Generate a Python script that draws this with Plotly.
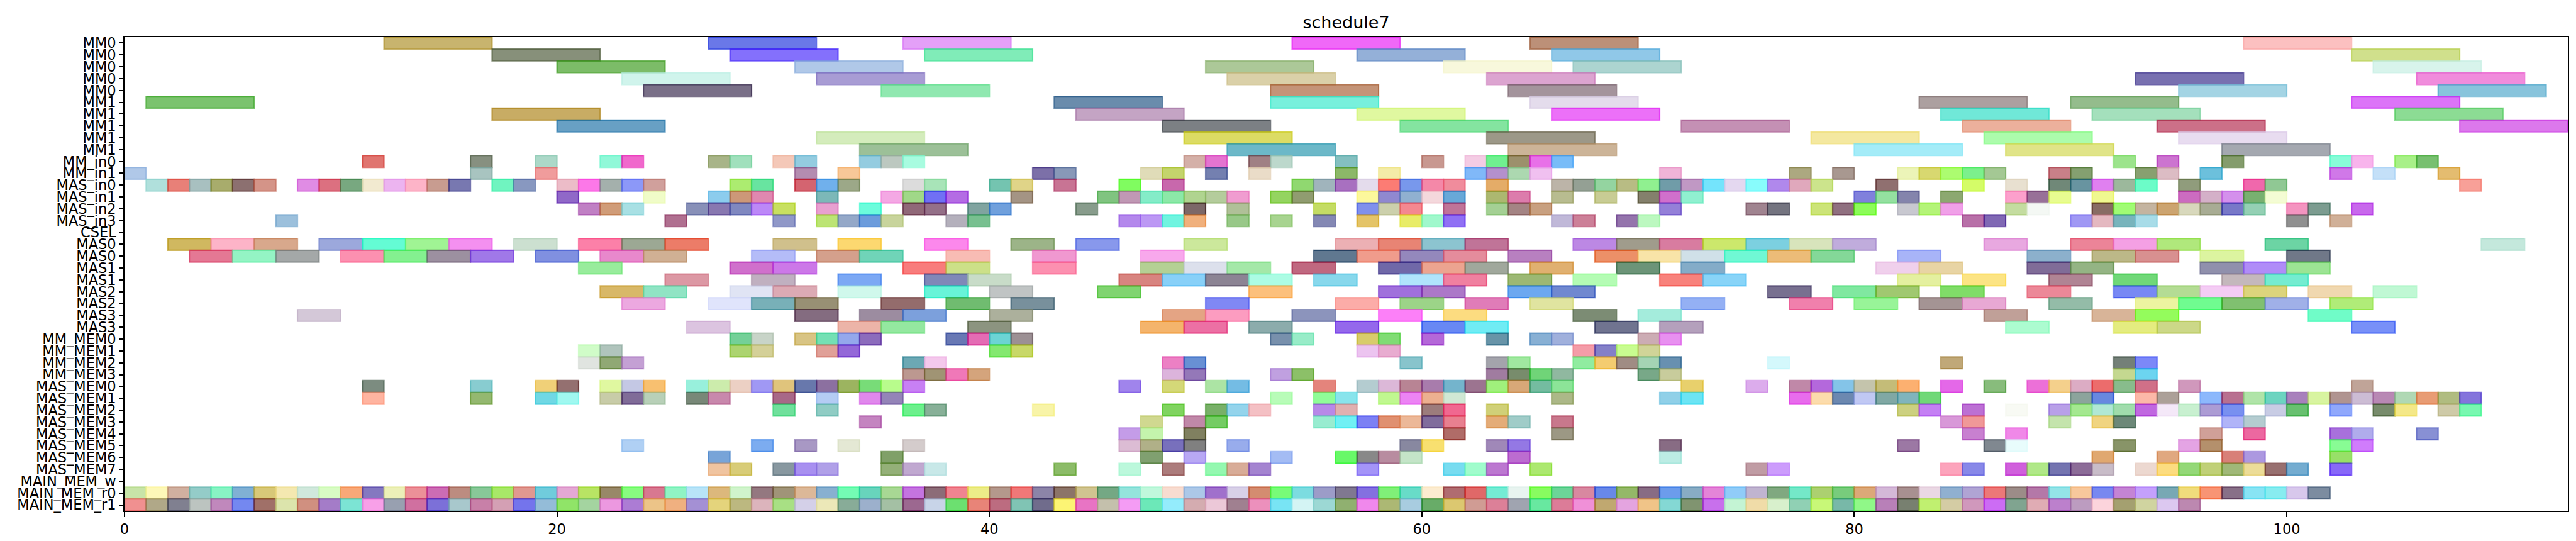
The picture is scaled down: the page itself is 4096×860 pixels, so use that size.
import plotly.graph_objects as go

# ---------------- data ----------------
ROW_LABELS = ["MM0", "MM0", "MM0", "MM0", "MM0",
              "MM1", "MM1", "MM1", "MM1", "MM1",
              "MM_in0", "MM_in1", "MAS_in0", "MAS_in1", "MAS_in2", "MAS_in3", "CSEL",
              "MAS0", "MAS0", "MAS1", "MAS1", "MAS2", "MAS2", "MAS3", "MAS3",
              "MM_MEM0", "MM_MEM1", "MM_MEM2", "MM_MEM3",
              "MAS_MEM0", "MAS_MEM1", "MAS_MEM2", "MAS_MEM3",
              "MAS_MEM4", "MAS_MEM5", "MAS_MEM6", "MAS_MEM7",
              "MAIN_MEM_w", "MAIN_MEM_r0", "MAIN_MEM_r1"]

ROW_DURATIONS = [5, 5, 5, 5, 5, 5, 5, 5, 5, 5,
                 1, 1, 1, 1, 1, 1, 1,
                 2, 2, 2, 2, 2, 2, 2, 2,
                 1, 1, 1, 1,
                 1, 1, 1, 1, 1, 1, 1, 1,
                 1, 1, 1]

mm0_a_starts = [12, 27, 36, 54, 65, 98]
mm0_a_colors = ['#c8b46e', '#6a78e8', '#e4a0f8', '#f068f8', '#bc9078', '#fcc0c0']
mm0_b_starts = [17, 28, 37, 57, 66, 103]
mm0_b_colors = ['#87907a', '#8470fc', '#80ecb8', '#94b0d8', '#90c8e8', '#d0e08c']
mm0_c_starts = [20, 31, 50, 61, 67, 104]
mm0_c_colors = ['#7cbc68', '#b0c8e8', '#acc898', '#f8f8dc', '#acd4d0', '#d8f4ec']
mm0_d_starts = [23, 32, 51, 63, 93, 106]
mm0_d_colors = ['#d0f4ec', '#a89cd4', '#dad0a8', '#dca4d0', '#7870b0', '#f08cdc']
mm0_e_starts = [24, 35, 53, 64, 95, 107]
mm0_e_colors = ['#7a7088', '#90e8b0', '#c49478', '#a4949c', '#a4d4e4', '#88c4dc']

mm1_a_starts = [1, 43, 53, 65, 83, 90, 103]
mm1_a_colors = ['#7bc36f', '#6a8cac', '#78f0dc', '#e4dcec', '#aca0a0', '#94bc8c', '#dc74f8']
mm1_b_starts = [17, 44, 57, 66, 84, 91, 105]
mm1_b_colors = ['#c8ac64', '#c4a4c4', '#e0f8a0', '#ec70f8', '#70e8d8', '#a4e0bc', '#8cdc94']
mm1_c_starts = [20, 48, 59, 72, 85, 94, 108]
mm1_c_colors = ['#68a0c4', '#7c8084', '#84e4a0', '#c490b4', '#ecb09c', '#cc7088', '#dc78ec']
mm1_d_starts = [32, 49, 63, 78, 86, 95]
mm1_d_colors = ['#d4ecbc', '#dcdc64', '#9c9888', '#f4e8a0', '#acfcac', '#e8dcf0']
mm1_e_starts = [34, 51, 64, 80, 87, 97]
mm1_e_colors = ['#9cc098', '#6cb8c8', '#ccb498', '#a4ecf8', '#e0e488', '#a4a8b0']

mm_in0_starts = [11, 16, 19, 22, 23, 27, 28, 30, 31, 34, 35, 36, 49, 50, 52, 53, 56, 60, 62, 63,
                 64, 65, 66, 92, 94, 97, 102, 103, 105, 106]
mm_in0_colors = ['#e07570', '#879080', '#acd8c8', '#90f8d8', '#f068cc', '#a8b488', '#a0e0bc', '#f4c8b8',
                 '#94cce0', '#94cce0', '#bcc8c0', '#a8fce0', '#d4b0a8', '#e474d0', '#a08084', '#bcd8cc',
                 '#84c0c0', '#c89890', '#f4cce4', '#70f090', '#9c906c', '#e870e8', '#78bcf8', '#9ce48c',
                 '#cc74d0', '#849c6c', '#88fcd8', '#f8b4ec', '#a8f088', '#78c070']
mm_in1_starts = [0, 16, 19, 31, 33, 42, 43, 47, 48, 50, 52, 56, 58, 62, 63, 64, 65, 71, 77, 79,
                 82, 83, 84, 85, 86, 89, 90, 93, 94, 96, 102, 104, 107]
mm_in1_colors = ['#b0c8e8', '#a8c4c0', '#f09c9c', '#b48cb0', '#f8c898', '#7c70a8', '#8898b8', '#e0dcb8',
                 '#c4d46c', '#7480b0', '#eadcc8', '#8cb868', '#f4eca8', '#80b8f8', '#b490cc', '#acd8b0',
                 '#f0c0f0', '#f0b4d8', '#aca880', '#a89890', '#ecf4b8', '#d8d870', '#acfc70', '#7cf08c',
                 '#a4c894', '#c88088', '#84a070', '#88a070', '#dcbcc4', '#6cc0dc', '#d078e8', '#c4e0f8',
                 '#e4bc70']

mas_in0_starts = [1, 2, 3, 4, 5, 6, 8, 9, 10, 11, 12, 13, 14, 15, 17, 18, 20, 21, 22, 23, 24, 28, 29,
                  31, 32, 33, 36, 37, 40, 41, 43, 46, 48, 54, 55, 56, 57, 58, 59, 60, 61, 63, 66, 67,
                  68, 69, 70, 71, 72, 73, 74, 75, 76, 77, 78, 81, 85, 87, 89, 90, 91, 92, 93, 95, 98,
                  99, 108]
mas_in0_colors = ['#b0e0dc', '#e88078', '#a8c0c0', '#a8ac6c', '#8c7070', '#d49488', '#e08ce4', '#dc7080',
                  '#78a880', '#f2ead0', '#ecb4f0', '#fdb4c8', '#c89c90', '#7878b0', '#70f4c0', '#8898c0',
                  '#ecbcc8', '#fc78e8', '#a4b0ac', '#8c98f8', '#d0a09c', '#acec70', '#68e4a0', '#d46470',
                  '#70b0ec', '#9ca888', '#dcdcdc', '#a8e4b8', '#74c4b0', '#e0d488', '#c87494', '#80fc60',
                  '#c868ac', '#90d870', '#a0b4bc', '#a870c0', '#e4dcec', '#fc7c74', '#7898ec', '#f488a8',
                  '#f08c9c', '#e4ac68', '#bcb4a8', '#94a094', '#94d4a0', '#b8bc84', '#90f090', '#709ca8',
                  '#c098c4', '#74e4fc', '#e4d8f0', '#88fcfc', '#b088ec', '#e0a8bc', '#cce48c', '#907070',
                  '#d4fc68', '#e8e0d0', '#708878', '#6894a0', '#e080f0', '#9cb89c', '#6cfcc8', '#909c7c',
                  '#f068ac', '#90c894', '#f8a098']
mas_in1_starts = [20, 24, 27, 28, 29, 32, 35, 36, 37, 38, 41, 45, 46, 47, 48, 49, 50, 51, 53, 54, 57,
                  58, 59, 60, 61, 63, 64, 66, 68, 70, 71, 72, 80, 81, 82, 84, 87, 88, 89, 91, 95, 96,
                  97, 98, 99]
mas_in1_colors = ['#9068c8', '#f0fcc8', '#8ccced', '#cc9878', '#e088b0', '#7cb8b8', '#f4a8e4', '#a0d888',
                  '#7070f4', '#b46ce4', '#a49484', '#80c480', '#c098b4', '#84ecc8', '#8ce8a8', '#b0d490',
                  '#b4cc9c', '#f09cd0', '#94d460', '#909c70', '#fcf89c', '#9088d0', '#90b0d0', '#f4d8dc',
                  '#68a8d8', '#acb870', '#dc7cac', '#b8bc90', '#c8cc94', '#84806c', '#d070cc', '#90f0d0',
                  '#8080dc', '#94e0a0', '#8484ac', '#8ca870', '#fca0cc', '#987098', '#e8fc90', '#f0f890',
                  '#cc6cc0', '#d4b0c8', '#d490ec', '#78b070', '#f4fcd4']
mas_in2_starts = [21, 22, 23, 26, 27, 28, 29, 30, 32, 34, 36, 37, 39, 40, 44, 49, 51, 55, 57, 58, 59,
                  61, 63, 64, 65, 71, 75, 76, 78, 79, 80, 82, 83, 84, 87, 88, 91, 92, 93, 94, 95, 96,
                  97, 98, 100, 101, 103]
mas_in2_colors = ['#c080c4', '#d09c78', '#a8e0e4', '#8890b8', '#8878b0', '#8088c0', '#bc88f8', '#c8e060',
                  '#e8a0d0', '#6cfcdc', '#906878', '#947088', '#80a4a0', '#70a0dc', '#889c8c', '#7c6868',
                  '#b0c098', '#c4dc64', '#8090ec', '#ccd0ac', '#f48890', '#c07498', '#a4d094', '#a48484',
                  '#c8a080', '#9480d8', '#a08490', '#747480', '#cce478', '#907080', '#8cfc54', '#c8c8d0',
                  '#b4f478', '#f0a0e8', '#c4dca0', '#f4f8f4', '#886c64', '#a0fc74', '#c4b4a0', '#cca470',
                  '#d8d8bc', '#a8ac94', '#7878c8', '#94d0b4', '#f494c0', '#7c9c90', '#c868ec']
mas_in3_starts = [7, 25, 30, 32, 33, 34, 35, 38, 39, 46, 47, 48, 49, 51, 53, 55, 57, 59, 60, 61, 66,
                  67, 69, 70, 85, 86, 90, 91, 92, 93, 100, 102]
mas_in3_colors = ['#9cc0dc', '#b07090', '#9098c8', '#bce474', '#94a8c8', '#6c9cdc', '#c8d49c', '#b4b0bc',
                  '#78c090', '#b488ec', '#bc98f4', '#70f4e0', '#f0b07c', '#98c888', '#a8d490', '#8488b4',
                  '#e4c468', '#e8ec68', '#a0f8cc', '#9070f4', '#c0b8d8', '#cc8098', '#9474ac', '#bcf8c0',
                  '#b870a8', '#8068b4', '#a098f4', '#e4b8c0', '#78b4bc', '#a8dce8', '#909090', '#d0b098']
csel_starts = []
csel_colors = []

mas0_a_starts = [2, 4, 6, 9, 11, 13, 15, 18, 21, 23, 25, 30, 33, 37, 41, 44, 49, 56, 58, 60, 62, 67,
                 69, 71, 73, 75, 77, 79, 86, 90, 92, 94, 99, 109]
mas0_a_colors = ['#d0b860', '#fdb4c8', '#d8a88c', '#9ca8dc', '#64fcd4', '#a0f494', '#f490f0', '#cce0d0',
                 '#fc80a8', '#9ca894', '#ec7c68', '#d0c08c', '#fcd870', '#fc88ec', '#9cb488', '#8898ec',
                 '#cce89c', '#ecb0b4', '#e88474', '#8cc4d0', '#c07498', '#bc88e4', '#a09c8c', '#d87ca0',
                 '#cce86c', '#7cd0e0', '#d8e4bc', '#c0acdc', '#e8a8e0', '#ec8498', '#f4a0e4', '#b0e87c',
                 '#6cd4a4', '#c4e8dc']
mas0_b_starts = [3, 5, 7, 10, 12, 14, 16, 19, 22, 24, 29, 32, 34, 38, 42, 47, 55, 57, 59, 61, 64, 68,
                 70, 72, 74, 76, 78, 82, 88, 91, 93, 96, 100]
mas0_b_colors = ['#e47894', '#94f4c4', '#a4a8a8', '#fc90b0', '#84f090', '#9c90a0', '#a078e8', '#8090e0',
                 '#e888cc', '#d0b094', '#b4bcf8', '#d4a08c', '#70d4b8', '#f8bcb4', '#f098d0', '#f8a8ec',
                 '#607890', '#f09c8c', '#9488bc', '#e48c9c', '#b880c0', '#ec9068', '#f8e4a8', '#d0e0e8',
                 '#70f8d4', '#ecbc78', '#84d898', '#a8b4f8', '#8cb0cc', '#bcb888', '#d89090', '#dcf4a0',
                 '#707888']
mas1_a_starts = [21, 28, 30, 36, 38, 42, 47, 49, 51, 54, 58, 60, 62, 65, 69, 72, 81, 83, 88, 90, 96,
                 98, 100]
mas1_a_colors = ['#98ec9c', '#d070cc', '#cc78e8', '#f87c7c', '#cce088', '#fc90b0', '#b4d094', '#dce0ec',
                 '#a4e8a8', '#c06880', '#7068a8', '#eca490', '#a0a89c', '#e0b070', '#6c9478', '#84acc8',
                 '#f0d0ec', '#e8d4a4', '#806c98', '#94b484', '#9090ac', '#b08cf8', '#9ce494']
mas1_b_starts = [25, 29, 33, 37, 39, 46, 48, 50, 52, 55, 59, 61, 64, 67, 71, 73, 82, 85, 89, 92, 97, 99]
mas1_b_colors = ['#dc98a4', '#c0b0c0', '#7ca8f4', '#8088b8', '#c8dcc8', '#d88480', '#88d0f8', '#8c8494',
                 '#acfce4', '#88d8ec', '#b0e4fc', '#f080a0', '#9cb874', '#b4fcb4', '#f8827c', '#88d4f8',
                 '#e4f0a0', '#fce484', '#b08494', '#70d878', '#c4b8bc', '#74ecd0']
mas2_a_starts = [22, 24, 28, 30, 33, 37, 40, 45, 52, 58, 60, 64, 66, 76, 79, 81, 84, 88, 92, 94, 96,
                 98, 101, 104]
mas2_a_colors = ['#d8b868', '#90e4c4', '#e0e4f4', '#dcaab4', '#d0f8ec', '#68f4d8', '#c0c4c4', '#80d470',
                 '#fcc07c', '#a070dc', '#ac78c8', '#6ca8f0', '#7088d0', '#787090', '#80e8a0', '#a0c870',
                 '#80dc68', '#ec8898', '#7888f4', '#b4dc94', '#f4ccf4', '#dcd47c', '#f0d8b0', '#c0f8d4']
mas2_b_starts = [23, 27, 29, 31, 35, 38, 41, 50, 56, 59, 62, 65, 72, 77, 80, 83, 85, 89, 93, 95, 97,
                 99, 102]
mas2_b_colors = ['#eca8e0', '#e0e4fc', '#78b0b8', '#989074', '#946c6c', '#70bc70', '#78909c', '#8088f4',
                 '#fcaca8', '#9cd488', '#e07cb8', '#e0e4a0', '#94b0f4', '#f080ac', '#98f498', '#a49494',
                 '#e8a8d4', '#94bca8', '#ecf4a0', '#70fc90', '#80c070', '#a0b0e8', '#b0ec78']
mas3_a_starts = [8, 31, 34, 36, 40, 48, 50, 54, 58, 61, 67, 70, 86, 91, 93, 101]
mas3_a_colors = ['#d4c8d8', '#846c80', '#9c8ca0', '#7ca0dc', '#acb09c', '#e4a484', '#fc9cc0', '#8c94bc',
                 '#fc80f8', '#fcdc80', '#7c8c74', '#a4ecdc', '#c0a098', '#d8b498', '#94fc5c', '#70fcc8']
mas3_b_starts = [26, 33, 35, 39, 47, 49, 52, 56, 60, 62, 68, 71, 87, 92, 94, 103]
mas3_b_colors = ['#dcc4e0', '#ecb4a8', '#94e8a0', '#8c9480', '#f4b46c', '#ec70a4', '#8cacac', '#9468ec',
                 '#6888f4', '#70ecf4', '#707490', '#b4a0bc', '#acfcd0', '#e4ec80', '#ccd888', '#7890f8']

mm_mem0_starts = [28, 29, 31, 32, 33, 34, 38, 39, 40, 41, 53, 54, 57, 58, 60, 63, 65, 66, 70, 71]
mm_mem0_colors = ['#74d098', '#c8d4c8', '#d8c484', '#74e0b4', '#94a8ec', '#8c6cbc', '#6878b4', '#e46cb4',
                  '#6cd4d4', '#9c9094', '#7890ac', '#98ecc8', '#d8cc6c', '#80dc74', '#b468d8', '#6894a8',
                  '#88b0d4', '#a0b0dc', '#ccacb4', '#e890f0']
mm_mem1_starts = [21, 22, 28, 29, 32, 33, 40, 41, 57, 58, 67, 68, 69, 70]
mm_mem1_colors = ['#d0fcc8', '#b0c4bc', '#acd470', '#d4d098', '#e0a098', '#9468d8', '#84e870', '#c8d868',
                  '#ecc4f0', '#e8acd0', '#f49ca8', '#8480c8', '#c8fc90', '#d0d498']
mm_mem2_starts = [21, 22, 23, 36, 37, 48, 49, 59, 63, 64, 67, 68, 69, 70, 71, 76, 84, 92, 93]
mm_mem2_colors = ['#e0e4e0', '#90a874', '#c4a0d4', '#6ca8b4', '#f4c8ec', '#ec80c4', '#6890d4', '#88c4cc',
                  '#a4a4ac', '#a0e8a0', '#90eca0', '#f4cc70', '#a08c84', '#a4d4b4', '#6890b0', '#d4f8fc',
                  '#c0a878', '#748078', '#7c88f8']
mm_mem3_starts = [36, 37, 38, 39, 48, 49, 53, 54, 63, 64, 65, 66, 70, 71, 92, 93]
mm_mem3_colors = ['#bc9890', '#a09474', '#f078b8', '#d4a47c', '#dcb4dc', '#9478b8', '#c0a0e0', '#8cc068',
                  '#a07ca0', '#788c6c', '#70d478', '#90b8a0', '#78a888', '#c8cc9c', '#c4d890', '#6cd4f0']

mas_mem0_starts = [11, 16, 19, 20, 22, 23, 24, 26, 27, 28, 29, 30, 31, 32, 33, 34, 35, 36, 46, 48, 50,
                   51, 55, 57, 58, 59, 60, 61, 62, 63, 64, 65, 66, 72, 75, 77, 78, 79, 80, 81, 82, 84,
                   86, 88, 89, 90, 91, 92, 93, 95, 103]
mas_mem0_colors = ['#7c8c80', '#88ccd0', '#f0d078', '#947070', '#e0f8a0', '#c4c8e4', '#f8c070', '#98f0dc',
                   '#ccecac', '#ecd0c4', '#a098f4', '#e0c47c', '#6878ac', '#8c70a0', '#9cb460', '#78dc78',
                   '#b8fc8c', '#c880f4', '#a084ec', '#d4d878', '#ace4a4', '#74bce4', '#e4847c', '#b4ccd0',
                   '#dcb8d8', '#b88494', '#a87cac', '#74b4cc', '#9c7490', '#a0f07c', '#d8a878', '#74bca0',
                   '#8ce498', '#e8d06c', '#dcacec', '#c088a8', '#b468dc', '#84c4e8', '#c4c4ac', '#c4bc78',
                   '#fcb070', '#e468e8', '#88bc7c', '#ec70d8', '#f4d08c', '#dcacc4', '#ec6c6c', '#88bc8c',
                   '#d07088', '#d098bc', '#c0a498']
mas_mem1_starts = [11, 16, 19, 20, 22, 23, 24, 26, 27, 30, 32, 34, 35, 53, 55, 56, 58, 59, 60, 61, 66,
                   71, 72, 77, 78, 79, 80, 81, 82, 83, 90, 91, 93, 94, 96, 97, 98, 99, 100, 101, 102,
                   103, 104, 105, 106, 107, 108]
mas_mem1_colors = ['#ffb4a0', '#94b870', '#70d8e4', '#a0f8f0', '#c8cca8', '#806c98', '#b8d0b8', '#788878',
                   '#c888ac', '#a86888', '#b4ccf4', '#e088ec', '#9484b8', '#b8fcb8', '#90fc98', '#88e4ec',
                   '#c0f890', '#ec84f4', '#ecb090', '#d0e8d4', '#acb888', '#90d0e8', '#6ce4f4', '#e86cec',
                   '#fcdcac', '#6c88b0', '#c0c8f4', '#80a8a4', '#80b4bc', '#70d878', '#8ca49c', '#6888e0',
                   '#fcb8a8', '#aca098', '#8cb8fc', '#b87090', '#b0e4a8', '#6cd4c0', '#a880bc', '#d8f4a0',
                   '#b09490', '#ccbcd4', '#b888b4', '#b0d8b4', '#e89c74', '#b0bc80', '#8474dc']
mas_mem2_starts = [30, 32, 36, 37, 42, 48, 50, 51, 52, 55, 56, 60, 61, 63, 82, 83, 85, 87, 89, 90, 91,
                   92, 93, 94, 95, 96, 97, 99, 100, 102, 104, 105, 107, 108]
mas_mem2_colors = ['#70e09c', '#90ccc4', '#6cf08c', '#88b098', '#f8f4a8', '#80d460', '#78b068', '#94d4ec',
                   '#f4c0c4', '#b888e8', '#e0b0b0', '#9c7c7c', '#f06890', '#d0d078', '#ccd080', '#c480f4',
                   '#bc70d4', '#f8faf4', '#b8a0e8', '#a4e890', '#b0e8d4', '#a0dcac', '#c068e0', '#f4e8f8',
                   '#c8f0d0', '#ac9cd4', '#7890f0', '#c8cce4', '#68c070', '#90a8fc', '#788c6c', '#f4e888',
                   '#cecaa8', '#78f8b0']
mas_mem3_starts = [34, 47, 49, 50, 55, 56, 57, 58, 59, 60, 61, 63, 64, 66, 84, 85, 89, 91, 92, 97, 98]
mas_mem3_colors = ['#c484c0', '#d0d890', '#c088a8', '#74cc64', '#98ecd0', '#70f0f4', '#7c80f4', '#e09070',
                   '#ecb898', '#806c9c', '#e88090', '#e4ac78', '#a0ccc8', '#c8788c', '#d898d8', '#f09898',
                   '#c4e4ac', '#f0d480', '#6c8878', '#b0b4f8', '#b4ccd0']
mas_mem4_starts = [46, 47, 49, 61, 66, 85, 87, 96, 98, 102, 103, 106]
mas_mem4_colors = ['#c49ce8', '#c4f4ac', '#808060', '#b06c68', '#9c9884', '#c880d0', '#f088e8', '#d0a098',
                   '#ec68a0', '#a870dc', '#b0acec', '#8890d4']
mas_mem5_starts = [23, 29, 31, 33, 36, 46, 47, 48, 49, 51, 59, 60, 63, 64, 71, 82, 86, 87, 92, 95, 96,
                   102, 103]
mas_mem5_colors = ['#b0d0f4', '#7cacf0', '#a898c4', '#e4e8d4', '#d4cccc', '#dcbcd4', '#b0b088', '#7870bc',
                   '#808080', '#98acec', '#8888a0', '#f8e070', '#a088b8', '#9478e4', '#886c84', '#9c78a4',
                   '#808890', '#e8fcfc', '#889468', '#e4a4e4', '#b4906c', '#88fc94', '#d07cfc']
mas_mem6_starts = [27, 35, 47, 49, 53, 56, 57, 58, 59, 64, 71, 91, 94, 97, 98, 102]
mas_mem6_colors = ['#78a4d8', '#80a068', '#80a070', '#b8a8f4', '#a4bcf4', '#68f868', '#888888', '#b88ca0',
                   '#c4e4c8', '#bc6cd0', '#bcece4', '#e0a870', '#e0a880', '#d88078', '#ac98e0', '#98e068']
mas_mem7_starts = [27, 28, 30, 31, 32, 35, 36, 37, 43, 46, 48, 50, 51, 52, 57, 61, 62, 63, 65, 75, 76,
                   84, 85, 87, 88, 89, 90, 91, 93, 94, 95, 96, 97, 98, 99, 100, 102]
mas_mem7_colors = ['#f0c4a0', '#d8cc78', '#8898a0', '#a890f0', '#b0a0e8', '#94b078', '#c0a8d0', '#c8e8e8',
                   '#8cbc68', '#bcf8dc', '#ac7c7c', '#94f8b0', '#d8ac98', '#a484d0', '#a494f8', '#78dcf0',
                   '#a0fccc', '#bc78d0', '#ace870', '#c09ca4', '#cc9cfc', '#fca4bc', '#8888e8', '#d060dc',
                   '#b0e888', '#7474b0', '#8c6c98', '#c8bcc8', '#ecd8d0', '#fcdc80', '#94d878', '#c0d078',
                   '#a0b878', '#ecdc98', '#987070', '#74acd0', '#8868f8']

main_mem_w_starts = []
main_mem_w_colors = []
main_mem_r0_starts = [0, 1, 2, 3, 4, 5, 6, 7, 8, 9, 10, 11, 12, 13, 14, 15, 16, 17, 18, 19, 20, 21, 22,
                      23, 24, 25, 26, 27, 28, 29, 30, 31, 32, 33, 34, 35, 36, 37, 38, 39, 40, 41, 42,
                      43, 44, 45, 46, 47, 48, 49, 50, 51, 52, 53, 54, 55, 56, 57, 58, 59, 60, 61, 62,
                      63, 64, 65, 66, 67, 68, 69, 70, 71, 72, 73, 74, 75, 76, 77, 78, 79, 80, 81, 82,
                      83, 84, 85, 86, 87, 88, 89, 90, 91, 92, 93, 94, 95, 96, 97, 98, 99, 100, 101]
main_mem_r0_colors = ['#c8e4a8', '#fdf8b8', '#d0b0a0', '#94ccc8', '#88f4c4', '#80b0d4', '#d8c878', '#f4e8b0',
                      '#d0e8dc', '#d8fcc4', '#f8a878', '#8478c0', '#ecf0b8', '#ec9098', '#cc6cb4', '#bc8c80',
                      '#88c898', '#a8e868', '#e09890', '#70ccdc', '#e4a8d4', '#b8e464', '#988868', '#88fc80',
                      '#d87890', '#90f4c4', '#b8e4f8', '#dcb87c', '#d0f4cc', '#947880', '#a09478', '#dcb898',
                      '#88b0d0', '#74fcb4', '#68d4bc', '#a8d894', '#c474e0', '#8c6c78', '#f08490', '#ecec88',
                      '#b4988c', '#f07878', '#8c84a8', '#8c7468', '#d0c490', '#74a884', '#94e4dc', '#c0f8dc',
                      '#f8dcd0', '#acc8e8', '#a070cc', '#d8d0e8', '#d48c70', '#78fc78', '#7cdce0', '#9c9cc8',
                      '#807890', '#8470e0', '#80f078', '#68dcc8', '#fcecd0', '#b06c70', '#e06868', '#74ecd4',
                      '#e8f4f0', '#88fc60', '#6cd498', '#d888a0', '#6888e8', '#94b868', '#886c84', '#6c9cec',
                      '#88acc4', '#e484d8', '#90ccf8', '#c0b4d0', '#80a880', '#74e8c8', '#acd070', '#78cc7c',
                      '#dca878', '#d4b8d8', '#a89090', '#ead8e4', '#90b0d0', '#b0a4d4', '#ec7878', '#9c8c88',
                      '#b478a8', '#94e4e8', '#f8c89c', '#7888f0', '#c484d4', '#c4a0fc', '#78a8b4', '#f0dc7c',
                      '#f89474', '#887088', '#88e4f4', '#88ecf0', '#d8c8ec', '#7c8ca0']
main_mem_r1_starts = [0, 1, 2, 3, 4, 5, 6, 7, 8, 9, 10, 11, 12, 13, 14, 15, 16, 17, 18, 19, 20, 21, 22,
                      23, 24, 25, 26, 27, 28, 29, 30, 31, 32, 33, 34, 35, 36, 37, 38, 39, 40, 41, 42,
                      43, 44, 45, 46, 47, 48, 49, 50, 51, 52, 53, 54, 55, 56, 57, 58, 59, 60, 61, 62,
                      63, 64, 65, 66, 67, 68, 69, 70, 71, 72, 73, 74, 75, 76, 77, 78, 79, 80, 81, 82,
                      83, 84, 85, 86, 87, 88, 89, 90, 91, 92, 93, 94, 95]
main_mem_r1_colors = ['#f09090', '#b0a888', '#808090', '#bcc4c0', '#c088bc', '#7488f0', '#a07068', '#dce4ac',
                      '#d09080', '#a47cc8', '#7ce4d4', '#f8a0e8', '#98a0b0', '#d070a0', '#7c70d8', '#a8c8cc',
                      '#c880a8', '#d4a0b4', '#7474ec', '#94bcd8', '#90e468', '#a4d4a0', '#ec98e0', '#ac7cd4',
                      '#ecc488', '#f0b080', '#a490d4', '#e4d47c', '#bcb880', '#dcb4bc', '#a8e084', '#d4d0e8',
                      '#ece8b8', '#88ac98', '#9cb0cc', '#a4c0a4', '#9c6890', '#c8d4e8', '#6ce070', '#e88478',
                      '#bc6c80', '#80c4b4', '#706c8c', '#fcf474', '#e874c4', '#c4c0ac', '#f49cf4', '#6ce8b8',
                      '#94ecfc', '#d4acb0', '#ecc8d8', '#a08090', '#ec90bc', '#78e4f4', '#d4f4f4', '#9cd8d4',
                      '#90b070', '#f088ec', '#acb874', '#a8cce0', '#68ac68', '#dcc870', '#d09c94', '#dc8098',
                      '#a0a4b0', '#68e8a0', '#dc7c98', '#f090d8', '#c0a870', '#e4a4e0', '#f0c488', '#84d8d4',
                      '#809470', '#c870ec', '#c4f4d4', '#f0dca8', '#d8f0cc', '#90d0b4', '#c8f878', '#78b8a8',
                      '#90f888', '#b880b8', '#788070', '#c0f070', '#d4cca4', '#d098bc', '#cc6cf4', '#80a490',
                      '#e0acb4', '#bc80cc', '#bc9cc0', '#fcd4dc', '#a4a070', '#d0d4a0', '#dcc8f0', '#bc88b0']

ROW_STARTS = [mm0_a_starts, mm0_b_starts, mm0_c_starts, mm0_d_starts, mm0_e_starts,
              mm1_a_starts, mm1_b_starts, mm1_c_starts, mm1_d_starts, mm1_e_starts,
              mm_in0_starts, mm_in1_starts, mas_in0_starts, mas_in1_starts, mas_in2_starts,
              mas_in3_starts, csel_starts,
              mas0_a_starts, mas0_b_starts, mas1_a_starts, mas1_b_starts,
              mas2_a_starts, mas2_b_starts, mas3_a_starts, mas3_b_starts,
              mm_mem0_starts, mm_mem1_starts, mm_mem2_starts, mm_mem3_starts,
              mas_mem0_starts, mas_mem1_starts, mas_mem2_starts, mas_mem3_starts,
              mas_mem4_starts, mas_mem5_starts, mas_mem6_starts, mas_mem7_starts,
              main_mem_w_starts, main_mem_r0_starts, main_mem_r1_starts]
ROW_COLORS = [mm0_a_colors, mm0_b_colors, mm0_c_colors, mm0_d_colors, mm0_e_colors,
              mm1_a_colors, mm1_b_colors, mm1_c_colors, mm1_d_colors, mm1_e_colors,
              mm_in0_colors, mm_in1_colors, mas_in0_colors, mas_in1_colors, mas_in2_colors,
              mas_in3_colors, csel_colors,
              mas0_a_colors, mas0_b_colors, mas1_a_colors, mas1_b_colors,
              mas2_a_colors, mas2_b_colors, mas3_a_colors, mas3_b_colors,
              mm_mem0_colors, mm_mem1_colors, mm_mem2_colors, mm_mem3_colors,
              mas_mem0_colors, mas_mem1_colors, mas_mem2_colors, mas_mem3_colors,
              mas_mem4_colors, mas_mem5_colors, mas_mem6_colors, mas_mem7_colors,
              main_mem_w_colors, main_mem_r0_colors, main_mem_r1_colors]

X_MAX = 113
X_TICKS = [0, 20, 40, 60, 80, 100]

# ---------------- styling helpers ----------------
ALPHA = 0.65


def to_rgba(hexc, a=ALPHA):
    """Observed (on-white) colour -> underlying colour with transparency."""
    h = hexc.lstrip('#')
    vals = [int(h[i:i + 2], 16) for i in (0, 2, 4)]
    base = [max(0, min(255, round((v - 255 * (1 - a)) / a))) for v in vals]
    return "rgba(%d,%d,%d,%.2f)" % (base[0], base[1], base[2], a)


ys, bases, lengths, fills = [], [], [], []
for row, (starts, colors) in enumerate(zip(ROW_STARTS, ROW_COLORS)):
    dur = ROW_DURATIONS[row]
    for s, c in zip(starts, colors):
        ys.append(row)
        bases.append(s)
        lengths.append(dur)
        fills.append(to_rgba(c))

fig = go.Figure(go.Bar(
    orientation='h',
    y=ys, x=lengths, base=bases,
    width=[1.0] * len(ys),
    marker=dict(color=fills, line=dict(color=fills, width=2.2)),
    hoverinfo='skip',
    showlegend=False,
))

FONT = "DejaVu Sans"
fig.update_layout(
    width=4096, height=860,
    margin=dict(l=190, r=21, t=51, b=56, pad=0),
    paper_bgcolor='white', plot_bgcolor='white',
    font=dict(family=FONT, size=22.5, color='black'),
    title=dict(text='schedule7', x=0.5, xref='paper', xanchor='center',
               y=1 - 27.5 / 860, yref='container', yanchor='middle',
               font=dict(family=FONT, size=27, color='black')),
    barmode='overlay',
    xaxis=dict(range=[0, X_MAX], tickmode='array', tickvals=X_TICKS,
               ticks='outside', ticklen=8, tickwidth=1.6, tickcolor='black',
               showline=True, linecolor='black', linewidth=1.6, mirror=True,
               showgrid=False, zeroline=False,
               tickfont=dict(family=FONT, size=22.5, color='black')),
    yaxis=dict(range=[39.5, -0.5], tickmode='array',
               tickvals=list(range(len(ROW_LABELS))), ticktext=ROW_LABELS,
               ticks='outside', ticklen=7, tickwidth=1.6, tickcolor='black',
               showline=True, linecolor='black', linewidth=1.6, mirror=True,
               showgrid=False, zeroline=False,
               tickfont=dict(family=FONT, size=22.5, color='black')),
)

fig.write_html("out.html")
